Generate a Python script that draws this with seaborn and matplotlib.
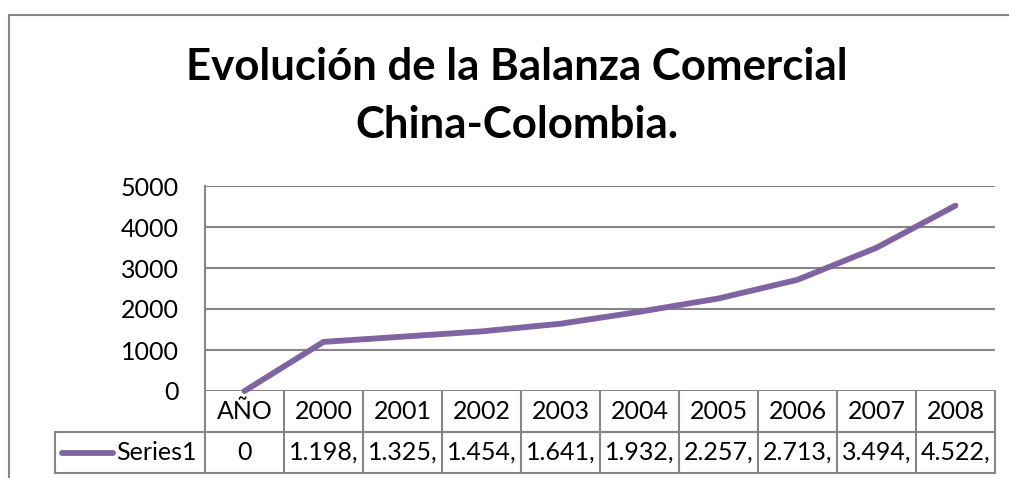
"""
Evolución de la Balanza Comercial China-Colombia, line chart with data table.
"""
import matplotlib
matplotlib.use("Agg")
import matplotlib.pyplot as plt
import seaborn as sns
import pandas as pd

categorias = ["AÑO", "2000", "2001", "2002", "2003", "2004", "2005", "2006", "2007", "2008"]
valores = [0, 1198, 1325, 1454, 1641, 1932, 2257, 2713, 3494, 4522]
etiquetas_tabla = ["0", "1.198,", "1.325,", "1.454,", "1.641,", "1.932,", "2.257,", "2.713,", "3.494,", "4.522,"]
serie = "Series1"
yticks = [0, 1000, 2000, 3000, 4000, 5000]

sns.set_style("white")
plt.rcParams['font.family'] = ['Lato', 'DejaVu Sans']
plt.rcParams['text.color'] = 'black'
plt.rcParams['ytick.color'] = 'black'

purple = '#8064A2'
gris = '#868686'
fs = 18

fig = plt.figure(figsize=(10.09, 4.78), dpi=100)
W, H = 1009, 478
ax = fig.add_axes([205 / W, (H - 391) / H, 790 / W, 205 / H])

df = pd.DataFrame({'cat': categorias, 'val': valores})
sns.lineplot(data=df, x='cat', y='val', sort=False, color=purple, linewidth=4.2, ax=ax,
             solid_capstyle='round', clip_on=False, zorder=5)

ax.set_xlim(-0.5, 9.5)
ax.set_ylim(0, 5000)
ax.set_yticks(yticks)
ax.set_yticklabels([str(v) for v in yticks], fontsize=fs, color='black')
ax.tick_params(axis='y', length=0, pad=19)
ax.set_xticks([])
ax.set_xlabel('')
ax.set_ylabel('')
for s in ['top', 'right', 'bottom']:
    ax.spines[s].set_visible(False)
ax.spines['left'].set_color(gris)
ax.spines['left'].set_linewidth(1.5)
for v in yticks:
    ax.axhline(v, color=gris, lw=1.5, zorder=1)

# data table below the plot
tr = ax.get_xaxis_transform()
lk = dict(color=gris, lw=1.5, transform=tr, clip_on=False)
x_izq = -2.4
ax.plot([-0.5, 9.5], [-0.2, -0.2], **lk)
ax.plot([x_izq, 9.5], [-0.2, -0.2], **lk)
ax.plot([x_izq, 9.5], [-0.4, -0.4], **lk)
ax.plot([x_izq, x_izq], [-0.2, -0.4], **lk)
for k in range(11):
    x = -0.5 + k
    ax.plot([x, x], [0, -0.4], **lk)

for i, (c, t) in enumerate(zip(categorias, etiquetas_tabla)):
    ax.text(i, -0.1, c, ha='center', va='center', fontsize=fs, transform=tr, clip_on=False)
    ax.text(i, -0.3, t, ha='center', va='center', fontsize=fs, transform=tr, clip_on=False)

ax.plot([-2.31, -1.66], [-0.3, -0.3], color=purple, lw=4.2, solid_capstyle='round',
        transform=tr, clip_on=False)
ax.text(-1.63, -0.3, serie, ha='left', va='center', fontsize=fs, transform=tr, clip_on=False)

# title
fig.text(517 / W, 1 - 67 / H, "Evolución de la Balanza Comercial", ha='center', va='center',
         fontsize=31.5, fontweight='bold')
fig.text(517 / W, 1 - 125 / H, "China-Colombia.", ha='center', va='center',
         fontsize=31.5, fontweight='bold')

# chart frame
fig.add_artist(plt.Line2D([9 / W, 9 / W], [0, 1 - 15 / H], color=gris, lw=1.5))
fig.add_artist(plt.Line2D([9 / W, 1], [1 - 15 / H, 1 - 15 / H], color=gris, lw=1.5))

fig.savefig("out.png", dpi=100)
